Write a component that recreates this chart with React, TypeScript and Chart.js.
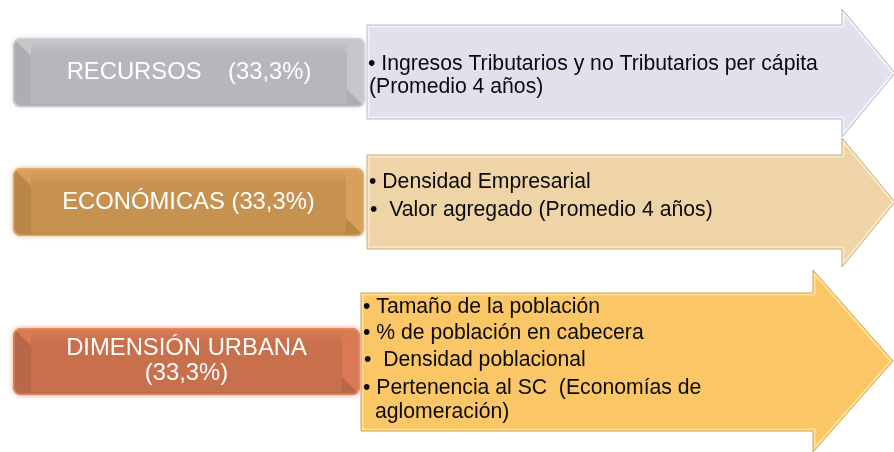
import React, { useEffect, useRef } from 'react';
import { Chart, registerables } from 'chart.js';

Chart.register(...registerables);

// ---- data ----
const dimensions = ['RECURSOS', 'ECONÓMICAS', 'DIMENSIÓN URBANA'];
const weights = ['(33,3%)', '(33,3%)', '(33,3%)'];
const recursosIndicators = ['• Ingresos Tributarios y no Tributarios per cápita', '(Promedio 4 años)'];
const economicasIndicators = ['• Densidad Empresarial', '•  Valor agregado (Promedio 4 años)'];
const urbanaIndicators = [
  '• Tamaño de la población',
  '• % de población en cabecera',
  '•  Densidad poblacional',
  '• Pertenencia al SC  (Economías de',
  'aglomeración)',
];
const indicatorLists = [recursosIndicators, economicasIndicators, urbanaIndicators];
const labelLines = [
  [`${dimensions[0]}    ${weights[0]}`],
  [`${dimensions[1]} ${weights[1]}`],
  [dimensions[2], weights[2]],
];

// ---- layout (diagram units on hidden linear scales) ----
const layout = [
  {
    box: { x0: 13, y0: 38, x1: 365, y1: 107 },
    labelY: [72.5],
    arrow: { x0: 367, top: 25, bottom: 119, neck: 842, headTop: 9, headBottom: 137, tip: 895, mid: 73 },
    lineX: [368, 369],
    lineY: [64, 87],
    colors: { face: '#b6b6bb', light: '#c6c6cb', dark: '#adadb2', glow: '#d6d6da', arrow: '#e1e0ec', edge: '#b6b5c4', hl: '#f3f2fa' },
  },
  {
    box: { x0: 13, y0: 168, x1: 364, y1: 236 },
    labelY: [202],
    arrow: { x0: 367, top: 155, bottom: 249, neck: 842, headTop: 138, headBottom: 267, tip: 895, mid: 202 },
    lineX: [369, 370],
    lineY: [182, 210],
    colors: { face: '#c7914f', light: '#d8a05c', dark: '#bb8749', glow: '#e8b878', arrow: '#efd4a7', edge: '#c7a979', hl: '#fbe8c6' },
  },
  {
    box: { x0: 13, y0: 328, x1: 360, y1: 395 },
    labelY: [348, 373],
    arrow: { x0: 361, top: 293, bottom: 431, neck: 813, headTop: 270, headBottom: 452, tip: 893, mid: 361 },
    lineX: [363, 363, 364, 363, 375],
    lineY: [307, 333, 360, 388, 412],
    colors: { face: '#c86f4c', light: '#da7a55', dark: '#b96749', glow: '#ee9670', arrow: '#fbc766', edge: '#d09d48', hl: '#fee194' },
  },
];

function roundRect(ctx: CanvasRenderingContext2D, x: number, y: number, w: number, h: number, r: number) {
  ctx.beginPath();
  ctx.moveTo(x + r, y);
  ctx.lineTo(x + w - r, y);
  ctx.quadraticCurveTo(x + w, y, x + w, y + r);
  ctx.lineTo(x + w, y + h - r);
  ctx.quadraticCurveTo(x + w, y + h, x + w - r, y + h);
  ctx.lineTo(x + r, y + h);
  ctx.quadraticCurveTo(x, y + h, x, y + h - r);
  ctx.lineTo(x, y + r);
  ctx.quadraticCurveTo(x, y, x + r, y);
  ctx.closePath();
}

function poly(ctx: CanvasRenderingContext2D, pts: number[][], color: string) {
  ctx.beginPath();
  ctx.moveTo(pts[0][0], pts[0][1]);
  for (let i = 1; i < pts.length; i++) ctx.lineTo(pts[i][0], pts[i][1]);
  ctx.closePath();
  ctx.fillStyle = color;
  ctx.fill();
}

const diagramPlugin = {
  id: 'diagram',
  afterDatasetsDraw(chart: any) {
    const ctx: CanvasRenderingContext2D = chart.ctx;
    const sx = (v: number) => chart.scales.x.getPixelForValue(v);
    const sy = (v: number) => chart.scales.y.getPixelForValue(v);

    layout.forEach((L, i) => {
      const a = L.arrow;
      const c = L.colors;
      // ---- arrow ----
      const pts = [
        [sx(a.x0), sy(a.top)],
        [sx(a.neck), sy(a.top)],
        [sx(a.neck), sy(a.headTop)],
        [sx(a.tip), sy(a.mid)],
        [sx(a.neck), sy(a.headBottom)],
        [sx(a.neck), sy(a.bottom)],
        [sx(a.x0), sy(a.bottom)],
      ];
      ctx.save();
      ctx.beginPath();
      ctx.moveTo(pts[0][0], pts[0][1]);
      for (let k = 1; k < pts.length; k++) ctx.lineTo(pts[k][0], pts[k][1]);
      ctx.closePath();
      ctx.fillStyle = c.arrow;
      ctx.fill();
      ctx.save();
      ctx.clip();
      ctx.lineWidth = 5;
      ctx.strokeStyle = c.hl;
      ctx.stroke();
      ctx.restore();
      ctx.lineWidth = 1;
      ctx.strokeStyle = c.edge;
      ctx.stroke();
      ctx.restore();

      // ---- box ----
      const b = L.box;
      const x0 = sx(b.x0), y0 = sy(b.y0), x1 = sx(b.x1), y1 = sy(b.y1);
      const w = x1 - x0, h = y1 - y0;
      const bev = 18;
      ctx.save();
      ctx.shadowColor = c.glow;
      ctx.shadowBlur = 5;
      roundRect(ctx, x0, y0, w, h, 9);
      ctx.fillStyle = c.face;
      ctx.fill();
      ctx.restore();
      ctx.save();
      roundRect(ctx, x0, y0, w, h, 9);
      ctx.clip();
      poly(ctx, [[x0, y0], [x1, y0], [x1 - bev, y0 + bev], [x0 + bev, y0 + bev]], c.light);
      poly(ctx, [[x0, y1], [x1, y1], [x1 - bev, y1 - bev], [x0 + bev, y1 - bev]], c.dark);
      poly(ctx, [[x0, y0], [x0 + bev, y0 + bev], [x0 + bev, y1 - bev], [x0, y1]], c.dark);
      poly(ctx, [[x1, y0], [x1 - bev, y0 + bev], [x1 - bev, y1 - bev], [x1, y1]], c.light);
      const g = ctx.createLinearGradient(0, y0 + 3, 0, y1 - 3);
      g.addColorStop(0, c.light);
      g.addColorStop(0.2, c.face);
      g.addColorStop(1, c.face);
      ctx.fillStyle = g;
      ctx.fillRect(x0 + bev, y0 + 3, w - 2 * bev, h - 6);
      // rim highlight
      roundRect(ctx, x0 + 0.5, y0 + 0.5, w - 1, h - 1, 9);
      ctx.lineWidth = 2;
      ctx.strokeStyle = c.glow;
      ctx.globalAlpha = 0.6;
      ctx.stroke();
      ctx.restore();

      // ---- box label ----
      ctx.save();
      ctx.fillStyle = '#ffffff';
      ctx.font = '23.8px "Liberation Sans", Arial, sans-serif';
      ctx.textAlign = 'center';
      ctx.textBaseline = 'middle';
      labelLines[i].forEach((t, k) => {
        ctx.fillText(t, (x0 + x1) / 2, sy(L.labelY[k]));
      });
      ctx.restore();

      // ---- indicators ----
      ctx.save();
      ctx.fillStyle = '#0a0a0a';
      ctx.font = '21.2px "Liberation Sans", Arial, sans-serif';
      ctx.textAlign = 'left';
      ctx.textBaseline = 'middle';
      indicatorLists[i].forEach((t, k) => {
        ctx.fillText(t, sx(L.lineX[k]), sy(L.lineY[k]));
      });
      ctx.restore();
    });
  },
};

export default function App() {
  const ref = useRef<HTMLCanvasElement>(null);
  useEffect(() => {
    document.body.style.margin = '0';
    if (!ref.current) return;
    const chart = new Chart(ref.current, {
      type: 'scatter',
      data: { datasets: [{ data: [] }] },
      options: {
        responsive: false,
        animation: false,
        layout: { padding: 0 },
        plugins: { legend: { display: false }, tooltip: { enabled: false } },
        scales: {
          x: { type: 'linear', min: 0, max: 894, display: false },
          y: { type: 'linear', min: 0, max: 452, reverse: true, display: false },
        },
      },
      plugins: [diagramPlugin],
    } as any);
    return () => chart.destroy();
  }, []);
  return <canvas ref={ref} width={894} height={452} style={{ display: 'block' }} />;
}
